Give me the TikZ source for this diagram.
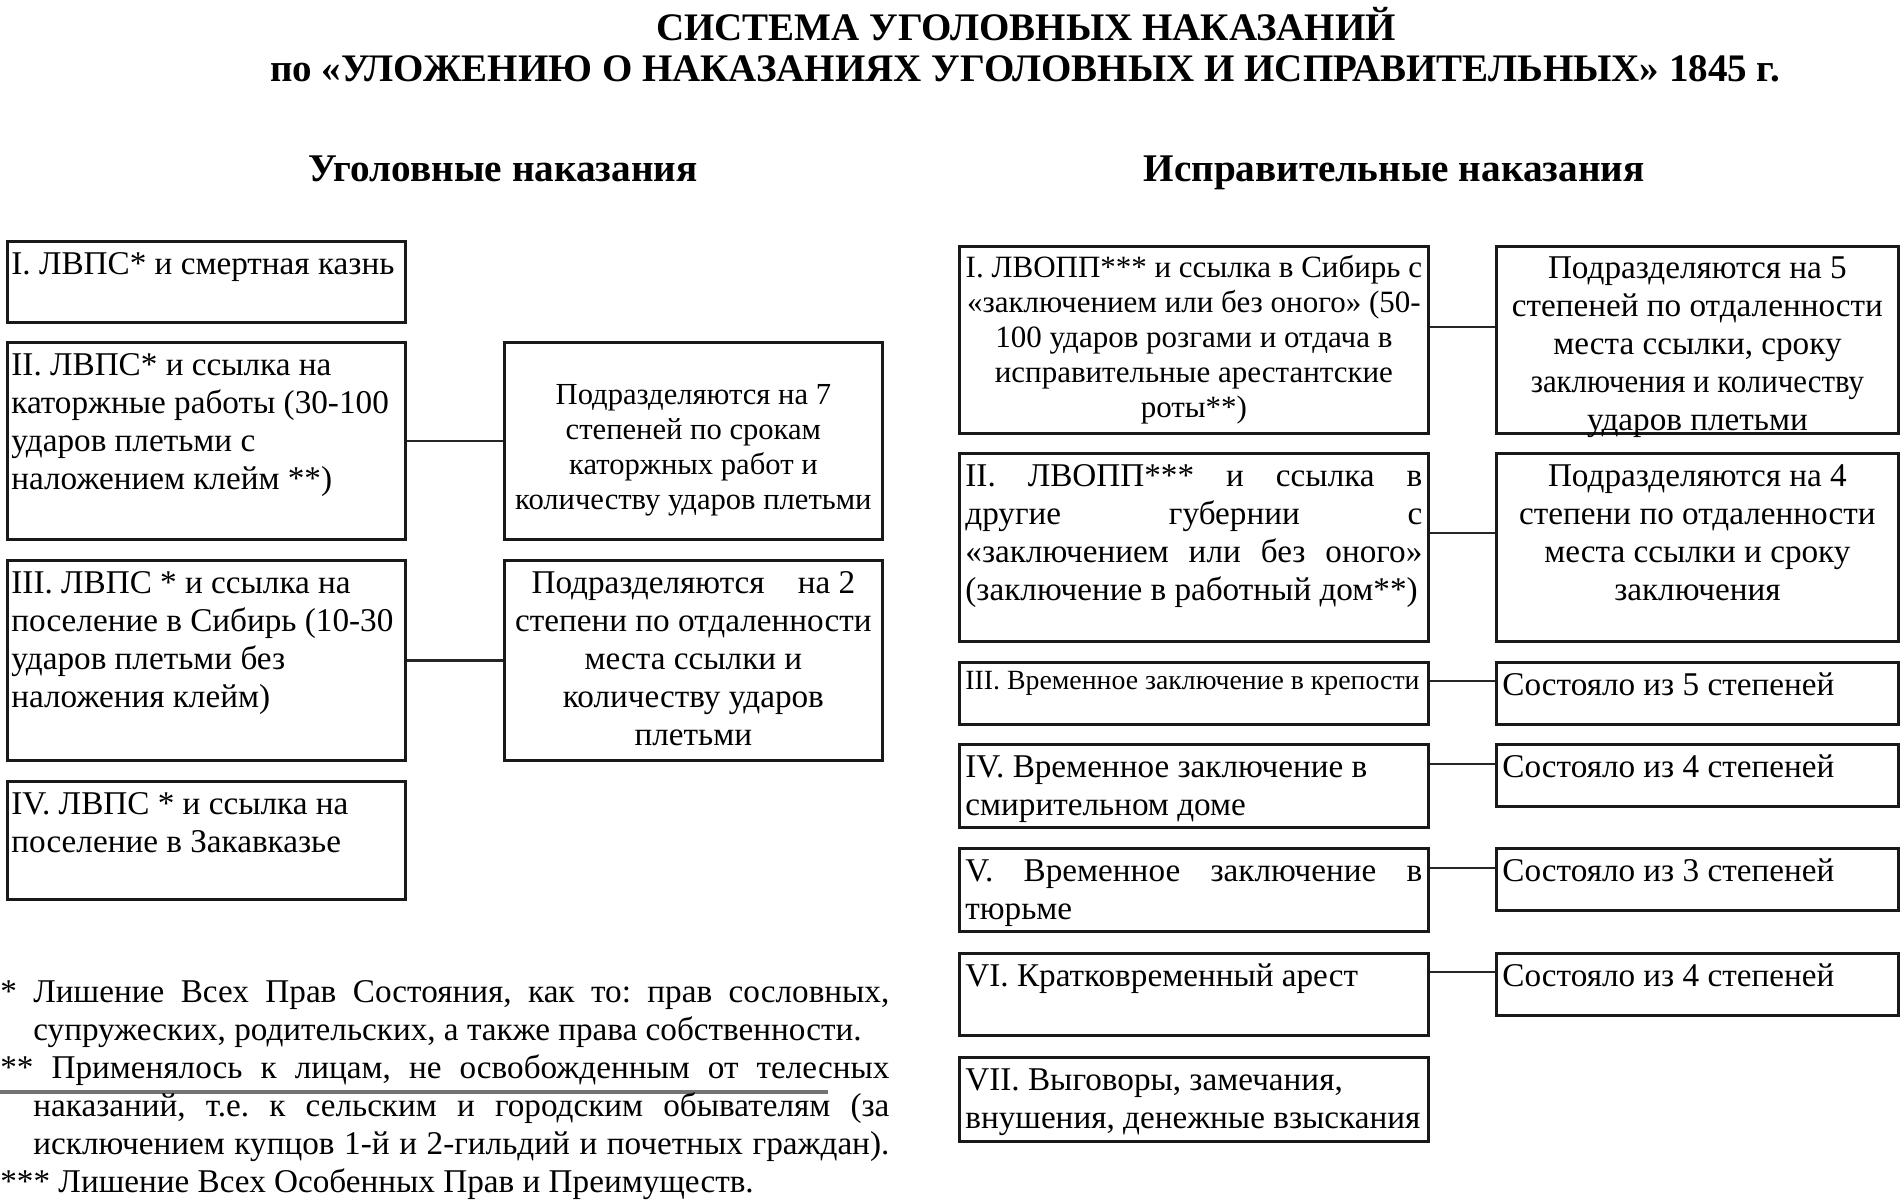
\documentclass[tikz,border=0pt]{standalone}
\usepackage{fontspec}
\usepackage{graphicx}
\setmainfont{Liberation Serif}
\usetikzlibrary{calc}
\frenchspacing
\newcommand\fs[2]{\fontsize{#1}{#2}\selectfont}
% \bxt{width}{height}{vpos}{text}
\newcommand\bxt[4]{\parbox[t][#2][#3]{#1}{\frenchspacing#4}}
\newcommand\jline[1]{\makebox[\linewidth][s]{#1}}
\tikzset{
  frame/.style={draw=black!90, line width=1.4pt, inner ysep=3pt, anchor=north west, fill=white},
  lframe/.style={frame, inner xsep=2pt},
  rframe/.style={frame, inner xsep=3pt},
  conn/.style={draw=black!85, line width=1.4pt},
  ttl/.style={font=\bfseries\fs{19.5}{22}, inner sep=0pt},
  hdr/.style={font=\bfseries\fs{19.6}{22}, inner sep=0pt, anchor=base},
}
\begin{document}
\begin{tikzpicture}[x=0.5pt,y=-0.5pt]
\useasboundingbox (0,0) rectangle (1901,1204);

% titles
\node[ttl] (t1) at (1026,24) {СИСТЕМА УГОЛОВНЫХ НАКАЗАНИЙ};
\node[ttl] (t2) at (1025,69) {по «УЛОЖЕНИЮ О НАКАЗАНИЯХ УГОЛОВНЫХ И ИСПРАВИТЕЛЬНЫХ» 1845 г.};
\node[hdr] (h1) at (503,182) {Уголовные наказания};
\node[hdr] (h2) at (1394,182) {Исправительные наказания};

% left column
\node[lframe] (L1) at (6,240) {\bxt{195pt}{34.5pt}{t}{\fs{16.6}{19}\raggedright\strut I. ЛВПС* и смертная казнь}};
\node[lframe] (L2) at (6,341) {\bxt{195pt}{92.5pt}{t}{\fs{16.6}{19}\raggedright\strut II. ЛВПС* и ссылка на\\ каторжные работы (30-100\\ ударов плетьми с\\ наложением клейм **)}};
\node[lframe] (L2r) at (503,341) {\bxt{185pt}{92.5pt}{c}{\fs{15.3}{17.5}\centering\vspace*{7pt}\strut Подразделяются на 7\\ степеней по срокам\\ каторжных работ и\\ количеству ударов плетьми}};
\node[lframe] (L3) at (6,559) {\bxt{195pt}{94pt}{t}{\fs{16.6}{19}\raggedright\strut III. ЛВПС * и ссылка на\\ поселение в Сибирь (10-30\\ ударов плетьми без\\ наложения клейм)}};
\node[lframe] (L3r) at (503,559) {\bxt{185pt}{94pt}{t}{\fs{16.6}{19}\centering\strut Подразделяются\quad на 2\\ степени по отдаленности\\ места ссылки и\\ количеству ударов\\ плетьми}};
\node[lframe] (L4) at (6,780) {\bxt{195pt}{53pt}{t}{\fs{16.6}{19}\raggedright\strut IV. ЛВПС * и ссылка на\\ поселение в Закавказье}};

\draw[conn] (L2.east) -- (L2r.west);
\draw[conn] (L3.east) -- (L3r.west);

% right column
\node[rframe] (R1) at (958,245) {\bxt{228.5pt}{87.5pt}{t}{\fs{15.5}{17.6}\centering\strut I. ЛВОПП*** и ссылка в Сибирь с\\ «заключением или без оного» (50-\\ 100 ударов розгами и отдача в\\ исправительные арестантские\\ роты**)}};
\node[rframe] (R1r) at (1495,245) {\bxt{195pt}{87.5pt}{t}{\fs{16.6}{18.9}\centering\strut Подразделяются на 5\\ степеней по отдаленности\\ места ссылки, сроку\\ \scalebox{0.93}[1]{заключения и количеству}\\ ударов плетьми}};
\node[rframe] (R2) at (958,452) {\bxt{228.5pt}{88pt}{t}{\fs{16.6}{19}\raggedright\strut\jline{II. ЛВОПП*** и ссылка в}\\ \jline{другие губернии с}\\ \jline{«заключением или без оного»}\\ (заключение в работный дом**)}};
\node[rframe] (R2r) at (1495,452) {\bxt{195pt}{88pt}{t}{\fs{16.6}{19}\centering\strut Подразделяются на 4\\ степени по отдаленности\\ места ссылки и сроку\\ заключения}};
\node[rframe] (R3) at (958,661) {\bxt{228.5pt}{25pt}{t}{\fs{13.9}{15}\raggedright\strut III. Временное заключение в крепости}};
\node[rframe] (R3r) at (1495,661) {\bxt{195pt}{25pt}{t}{\fs{16.6}{19}\raggedright\strut Состояло из 5 степеней}};
\node[rframe] (R4) at (958,743) {\bxt{228.5pt}{35.5pt}{t}{\fs{16.6}{19}\raggedright\strut IV. Временное заключение в\\ смирительном доме}};
\node[rframe] (R4r) at (1495,743) {\bxt{195pt}{25pt}{t}{\fs{16.6}{19}\raggedright\strut Состояло из 4 степеней}};
\node[rframe] (R5) at (958,847) {\bxt{228.5pt}{35.5pt}{t}{\fs{16.6}{19}\raggedright\strut\jline{V. Временное заключение в}\\ тюрьме}};
\node[rframe] (R5r) at (1495,847) {\bxt{195pt}{25pt}{t}{\fs{16.6}{19}\raggedright\strut Состояло из 3 степеней}};
\node[rframe] (R6) at (958,952) {\bxt{228.5pt}{35pt}{t}{\fs{16.6}{19}\raggedright\strut VI. Кратковременный арест}};
\node[rframe] (R6r) at (1495,952) {\bxt{195pt}{25pt}{t}{\fs{16.6}{19}\raggedright\strut Состояло из 4 степеней}};
\node[rframe] (R7) at (958,1056) {\bxt{228.5pt}{36pt}{t}{\fs{16.6}{19}\raggedright\strut VII. Выговоры, замечания,\\ внушения, денежные взыскания}};

\coordinate (c1) at ($(R1.north east)+(0,82)$);
\coordinate (c2) at ($(R2.north east)+(0,81)$);
\coordinate (c3) at ($(R3.north east)+(0,20)$);
\coordinate (c4) at ($(R4.north east)+(0,21)$);
\coordinate (c5) at ($(R5.north east)+(0,21)$);
\coordinate (c6) at ($(R6.north east)+(0,20)$);
\draw[conn] (c1) -- (c1 -| R1r.west);
\draw[conn] (c2) -- (c2 -| R2r.west);
\draw[conn] (c3) -- (c3 -| R3r.west);
\draw[conn] (c4) -- (c4 -| R4r.west);
\draw[conn] (c5) -- (c5 -| R5r.west);
\draw[conn] (c6) -- (c6 -| R6r.west);

% footnotes
\draw[black!55, line width=1.6pt] (0,1092) -- (828,1092);
\node[anchor=base west, inner sep=0pt] (fn) at (0,1002) {\parbox[t]{444.5pt}{\fs{16.6}{19}\raggedright\frenchspacing
\jline{* Лишение Всех Прав Состояния, как то: прав сословных,}\\
\hspace*{16.5pt}супружеских, родительских, а также права собственности.\\
\jline{** Применялось к лицам, не освобожденным от телесных}\\
\hspace*{16.5pt}\makebox[\dimexpr\linewidth-16.5pt\relax][s]{наказаний, т.е. к сельским и городским обывателям (за}\\
\hspace*{16.5pt}\makebox[\dimexpr\linewidth-16.5pt\relax][s]{исключением купцов 1-й и 2-гильдий и почетных граждан).}\\
\mbox{}*** Лишение Всех Особенных Прав и Преимуществ.}};
\end{tikzpicture}
\end{document}
